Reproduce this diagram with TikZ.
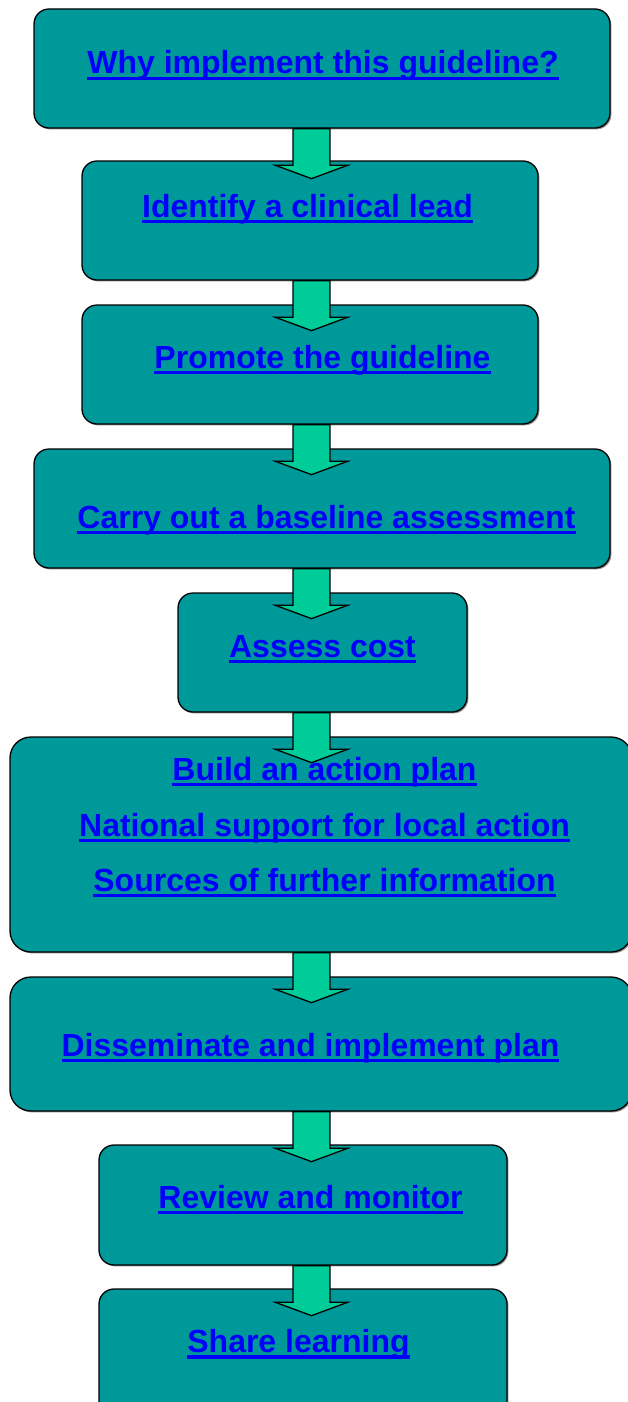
\documentclass[tikz,border=0pt]{standalone}
\usepackage{fontspec}
\setmainfont{Liberation Sans}
\usetikzlibrary{shadows}

\definecolor{boxteal}{HTML}{009999}
\definecolor{arrowgreen}{HTML}{00CC99}
\definecolor{linkblue}{HTML}{0000FF}

% underlined link text, the rule crossing the descenders
\newcommand\linktext[1]{\setbox0=\hbox{#1}\rlap{\vrule height -2.8pt depth 6.3pt width \wd0}\box0}

\tikzset{
  stepbox/.style={draw=black, line width=1.3pt, fill=boxteal, rounded corners=15pt,
    inner sep=0pt,
    drop shadow={shadow xshift=1.4pt, shadow yshift=-1.4pt, fill=black, opacity=0.45}},
  bigbox/.style={stepbox, rounded corners=21pt},
  blockarrow/.style={draw=black, line width=1.3pt, fill=arrowgreen, line join=miter},
  linklabel/.style={inner sep=0pt, anchor=base, text=linkblue,
    font=\fontsize{32}{40}\selectfont\bfseries},
}

\begin{document}
\begin{tikzpicture}[x=1pt, y=-1pt]
\useasboundingbox (0,0) rectangle (628,1402);
\clip (0,0) rectangle (628,1402);

% vertical line the arrows are centred on
\coordinate (axis) at (311.5,0);

% boxes
\node[stepbox, minimum width=576, minimum height=119] (b1) at (322,68.5) {};
\node[stepbox, minimum width=456, minimum height=119] (b2) at (310,220.5) {};
\node[stepbox, minimum width=456, minimum height=119] (b3) at (310,364.5) {};
\node[stepbox, minimum width=576, minimum height=119] (b4) at (322,508.5) {};
\node[stepbox, minimum width=289, minimum height=119] (b5) at (322.5,652.5) {};
\node[bigbox, minimum width=622, minimum height=215] (b6) at (321,844.5) {};
\node[bigbox, minimum width=622, minimum height=134] (b7) at (321,1044) {};
\node[stepbox, minimum width=408, minimum height=120] (b8) at (303,1205) {};
\node[stepbox, minimum width=408, minimum height=131] (b9) at (303,1354.5) {};

% block arrows hanging from the bottom of each box
\foreach \b in {b1,b2,b3,b4,b5,b6,b7,b8}{
  \draw[blockarrow] (\b.south -| axis) ++(-18.5,0) -- ++(0,36.5) -- ++(-18,0)
    -- ++(36.5,13.5) -- ++(36.5,-13.5) -- ++(-18,0) -- ++(0,-36.5) -- cycle;
}

% labels
\node[linklabel] (t1) at (323,74) {\linktext{Why implement this guideline?}};
\node[linklabel] (t2) at (307.5,217) {\linktext{Identify a clinical lead}};
\node[linklabel] (t3) at (322.5,368) {\linktext{Promote the guideline}};
\node[linklabel] (t4) at (326.5,528) {\linktext{Carry out a baseline assessment}};
\node[linklabel] (t5) at (322.5,657) {\linktext{Assess cost}};
\node[linklabel] (t6a) at (324.5,780) {\linktext{Build an action plan}};
\node[linklabel] (t6b) at (324.5,836) {\linktext{National support for local action}};
\node[linklabel] (t6c) at (324.5,891) {\linktext{Sources of further information}};
\node[linklabel] (t7) at (310.5,1056) {\linktext{Disseminate and implement plan}};
\node[linklabel] (t8) at (310.5,1208) {\linktext{Review and monitor}};
\node[linklabel] (t9) at (298.5,1352.5) {\linktext{Share learning}};
\end{tikzpicture}
\end{document}
